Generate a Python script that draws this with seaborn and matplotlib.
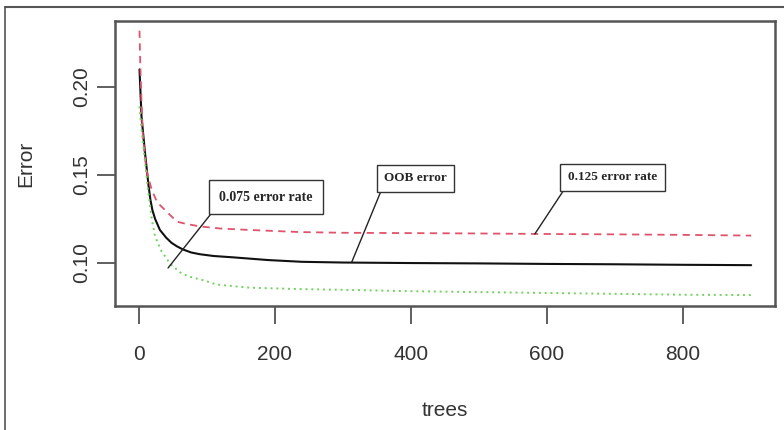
import numpy as np
import pandas as pd
import seaborn as sns
import matplotlib
matplotlib.use("Agg")
import matplotlib.pyplot as plt
from matplotlib.lines import Line2D

# ---- data ----
oob_trees = [1, 4, 9, 14, 17, 20, 24, 31, 40, 48, 56, 65, 77, 90, 110, 140, 190, 240, 300,
             400, 500, 600, 700, 800, 900]
oob_err = [0.210, 0.183, 0.163, 0.145, 0.136, 0.130, 0.125, 0.1188, 0.1145, 0.1115, 0.1095,
           0.1077, 0.1060, 0.1050, 0.1040, 0.1032, 0.1017, 0.1007, 0.1003, 0.1000, 0.0998,
           0.0995, 0.0993, 0.0990, 0.0988]

red_trees = [1, 2, 4, 6, 11, 19, 27, 43, 56, 70, 90, 120, 163, 237, 300, 400, 500, 600, 700,
             800, 900]
red_err = [0.232, 0.215, 0.191, 0.172, 0.153, 0.1415, 0.1345, 0.1284, 0.1235, 0.1222, 0.1208,
           0.1196, 0.1188, 0.1176, 0.1172, 0.1170, 0.1168, 0.1165, 0.1163, 0.1160, 0.1156]

green_trees = [1, 4, 9, 14, 19, 24, 33, 46, 63, 77, 97, 114, 163, 237, 300, 400, 500, 600,
               700, 800, 900]
green_err = [0.189, 0.176, 0.158, 0.140, 0.125, 0.115, 0.107, 0.0995, 0.0940, 0.0920, 0.0900,
             0.0878, 0.0860, 0.0852, 0.0848, 0.0840, 0.0835, 0.0830, 0.0825, 0.0820, 0.0818]

x_ticks = [0, 200, 400, 600, 800]
y_ticks = [0.10, 0.15, 0.20]
y_tick_labels = ["0.10", "0.15", "0.20"]

labels = ["0.075 error rate", "OOB error", "0.125 error rate"]

sns.set_style("white")
plt.rcParams["font.family"] = ["Liberation Sans", "DejaVu Sans"]

fig = plt.figure(figsize=(7.84, 4.30), dpi=100)
ax = fig.add_axes([115 / 784, 1 - 306 / 430, 660 / 784, 285 / 430])

df_oob = pd.DataFrame({"trees": oob_trees, "err": oob_err})
df_red = pd.DataFrame({"trees": red_trees, "err": red_err})
df_green = pd.DataFrame({"trees": green_trees, "err": green_err})

sns.lineplot(data=df_oob, x="trees", y="err", ax=ax, color="#111111", lw=1.5, estimator=None)
sns.lineplot(data=df_red, x="trees", y="err", ax=ax, color="#E0536B", lw=1.3,
             linestyle=(0, (4, 3)), estimator=None)
sns.lineplot(data=df_green, x="trees", y="err", ax=ax, color="#6FD35C", lw=1.4,
             linestyle=(0, (1, 2)), estimator=None)

ax.set_xlim(-35, 935)
ax.set_ylim(0.0756, 0.2375)
ax.set_xticks(x_ticks)
ax.set_xticklabels([str(t) for t in x_ticks])
ax.set_yticks(y_ticks)
ax.set_yticklabels(y_tick_labels, rotation=90, va="center")
ax.tick_params(axis="both", direction="out", length=13, width=1.2, colors="#444444",
               labelcolor="#333333", labelsize=15, bottom=True, left=True)
ax.tick_params(axis="x", pad=15)
ax.tick_params(axis="y", pad=4)
for s in ax.spines.values():
    s.set_visible(True)
    s.set_color("#555555")
    s.set_linewidth(1.8)

ax.set_xlabel("trees", fontsize=15, color="#333333", labelpad=27)
ax.set_ylabel("Error", fontsize=15, color="#333333", labelpad=27)

# annotations (box bottom-left corner -> point on curve)
ann_xy = [(43, 0.0972), (313, 0.1006), (582, 0.1165)]
ann_text = [(118, 0.1338), (360, 0.1447), (631, 0.1452)]
ann_size = [10, 9.5, 9.5]
ann_pad = [0.75, 0.55, 0.6]
for lab, xy, xt, fs, pd_ in zip(labels, ann_xy, ann_text, ann_size, ann_pad):
    ax.annotate(lab, xy=xy, xytext=xt, textcoords="data",
                fontsize=fs, fontweight="bold", family=["Liberation Serif", "DejaVu Serif"],
                ha="left", va="bottom",
                bbox=dict(boxstyle=f"square,pad={pd_}", fc="white", ec="#333333", lw=1.0),
                arrowprops=dict(arrowstyle="-", color="#222222", lw=1.0,
                                relpos=(0, 0), shrinkA=0, shrinkB=0))

# outer frame lines
fig.add_artist(Line2D([5 / 784, 1], [1 - 7 / 430, 1 - 7 / 430], transform=fig.transFigure,
                      color="#555555", lw=1.5))
fig.add_artist(Line2D([5 / 784, 5 / 784], [0, 1 - 7 / 430], transform=fig.transFigure,
                      color="#555555", lw=1.2))

fig.savefig("out.png", dpi=100)
